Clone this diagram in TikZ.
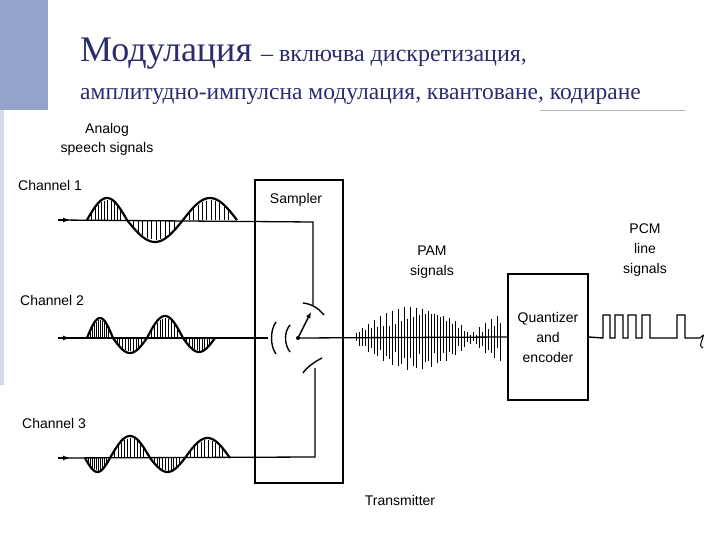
\documentclass[tikz,border=0pt]{standalone}
\usepackage{fontspec}
\setmainfont{Liberation Serif}
\newfontfamily\lsans{Liberation Sans}
\usetikzlibrary{arrows.meta}
\definecolor{navy}{HTML}{2B2B6E}
\definecolor{barblue}{HTML}{95A3CC}
\newcommand{\hump}[4]{%
 \draw[line width=2.2pt] plot[domain=#1:#2,samples=25,smooth] (\x,{#3-#4*sin((\x-#1)/(#2-#1)*180)});
 \foreach \t in {0.12,0.2,...,0.9}{\draw[line width=0.8pt] ({#1+\t*(#2-#1)},#3) -- ({#1+\t*(#2-#1)},{#3-0.9*#4*sin(\t*180)});}}
\begin{document}
\begin{tikzpicture}[x=1pt,y=-1pt,
 lab/.style={font=\lsans\fontsize{14}{16}\selectfont,align=center,inner sep=0pt},
 box/.style={draw,line width=1.2pt},
 wire/.style={line width=1.3pt}]
\useasboundingbox (0,0) rectangle (720,540);
\fill[barblue] (0,0) rectangle (48,110);
\fill[barblue!40] (0,110) rectangle (4,385);
\draw[gray!60,line width=0.8pt] (540,110) -- (685,110);
\node[anchor=base west,text=navy,inner sep=0pt] (t1) at (80,62) {\fontsize{36}{40}\selectfont Модулация \fontsize{24}{28}\selectfont – включва дискретизация,};
\node[anchor=base west,text=navy,inner sep=0pt] (t2) at (80,100) {\fontsize{23.5}{28}\selectfont амплитудно-импулсна модулация, квантоване, кодиране};
\node[lab] (an) at (107,139) {Analog\\[3pt]speech signals};
\node[lab,anchor=west] (c1) at (18,185) {Channel 1};
\node[lab,anchor=west] (c2) at (20,300) {Channel 2};
\node[lab,anchor=west] (c3) at (22,423) {Channel 3};
% sampler box
\node[box,minimum width=88pt,minimum height=303pt,inner sep=0pt] (samp) at (299,331.5) {};
\node[lab] (sl) at (296,200) {Sampler};
\node[box,minimum width=80pt,minimum height=126pt,lab] (q) at (548,337) {Quantizer\\[4pt]and\\[4pt]encoder};
\node[lab] (pam) at (432,262) {PAM\\[4pt]signals};
\node[lab] (pcm) at (645,250) {PCM\\[4pt]line\\[4pt]signals};
\node[lab] (tx) at (400,500) {Transmitter};
% coordinates
\coordinate (s1) at (58,220); \coordinate (s2) at (58,338); \coordinate (s3) at (58,458);
\coordinate (p) at (298,338);
\coordinate (k1) at (313,222); \coordinate (k3) at (315,457);
% wires
\draw[wire] (s1) -- (k1) -- (313,305);
\draw[wire] (s2) -- (268,338);
\draw[wire] (s3) -- (k3) -- (315,368);
\draw[wire] (p) -- (q.west);
\foreach \s in {s1,s2,s3}{\draw[-{Latex[length=7pt,width=5pt]},line width=1.2pt] (\s) -- ++(12,0);}
% switch contacts
\draw[line width=1.4pt] (303,303) .. controls (312,304) and (318,308) .. (324,315);
\draw[line width=1.4pt] (303,373) .. controls (306,368) and (314,362) .. (322,358);
\draw[line width=1.4pt] (276,322) .. controls (270,330) and (270,346) .. (276,354);
\draw[line width=1.4pt] (290,325) .. controls (284,332) and (284,344) .. (290,352);
\fill (p) circle (2pt);
\draw[line width=1.4pt,-{Latex[length=6pt,width=5pt]}] (p) -- (311,312);
% analog waves
\hump{87}{127}{220}{22}\hump{127}{183}{220}{-22}\hump{183}{237}{220}{22}
\hump{87}{113}{338}{20}\hump{113}{147}{338}{-15}\hump{147}{183}{338}{22}\hump{183}{215}{338}{-14}
\hump{85}{110}{458}{-14}\hump{110}{150}{458}{22}\hump{150}{185}{458}{-14}\hump{185}{230}{458}{20}
% PAM spikes
\foreach \x in {356,359,...,500}{
 \pgfmathsetmacro{\env}{6+26*abs(sin((\x-356)*1.55))*(\x<465 || \x>478)}
 \pgfmathsetmacro{\u}{\env*(0.45+0.55*abs(sin(\x*31)))}
 \pgfmathsetmacro{\d}{\env*(0.45+0.55*abs(cos(\x*23)))}
 \draw[line width=0.8pt] (\x,338-\u) -- (\x,338+\d);}
% PCM
\coordinate (e) at (700,338);
\draw[line width=1.4pt] (q.east) -- (603,338) -- (603,315) -- (610,315) -- (610,338) -- (615,338) -- (615,315) -- (623,315) -- (623,338) -- (628,338) -- (628,315) -- (636,315) -- (636,338) -- (642,338) -- (642,315) -- (650,315) -- (650,338) -- (677,338) -- (677,315) -- (685,315) -- (685,338) -- (e);
\draw[line width=1pt] (e) .. controls (704,334) .. (702,340) .. controls (700,346) .. (703,348);
\end{tikzpicture}
\end{document}
